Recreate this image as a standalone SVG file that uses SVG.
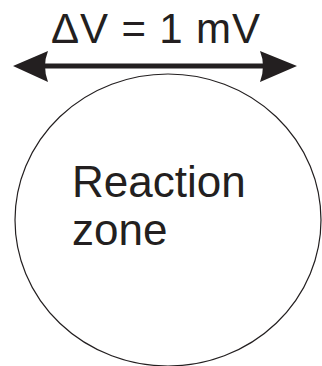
<svg xmlns="http://www.w3.org/2000/svg" width="322" height="366" viewBox="0 0 322 366">
<style>
text{font-family:"Liberation Sans",Arial,sans-serif;fill:#231f20}
.head{fill:#231f20}
</style>
<rect width="322" height="366" fill="#fff"/>
<g id="zone">
<ellipse cx="168" cy="220" rx="153" ry="146" fill="none" stroke="#231f20" stroke-width="1.2"/>
<text x="72" y="197" font-size="44">Reaction</text>
<text x="72" y="245" font-size="44">zone</text>
</g>
<g id="connectors">
<line x1="40" y1="66" x2="268" y2="66" stroke="#231f20" stroke-width="5"/>
<path class="head" d="M13,66 L48,51 Q42,66 48,82 Z"/>
<path class="head" d="M297,66 L260,51 Q266,66 260,82 Z"/>
</g>
<g id="label">
<text x="51" y="43" font-size="42" textLength="209" lengthAdjust="spacing">ΔV = 1 mV</text>
</g>
</svg>
